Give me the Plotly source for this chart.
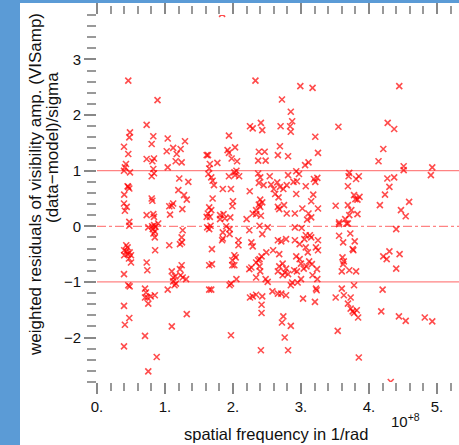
import plotly.graph_objects as go

# spatial frequency (units of 1e8 1/rad) and weighted residuals
freq = [
    0.46, 0.89, 0.73, 0.485, 0.475, 0.828, 1.04, 1.294, 0.397, 0.804, 0.46, 1.025, 1.12, 1.23, 1.172, 1.613,
    0.73, 0.838, 0.814, 1.157, 1.245, 0.426, 0.41, 0.485, 0.828, 1.04, 0.397, 0.804, 0.838, 1.637, 1.65,
    1.21, 1.343, 0.46, 0.475, 0.45, 0.40, 1.196, 0.804, 0.814, 1.28, 1.32, 0.397, 0.437, 0.41, 1.063,
    1.12, 1.10, 1.255, 0.73, 0.828, 0.838, 1.074, 0.475, 0.90, 1.613,
    0.475, 0.754, 0.84, 0.86, 0.82, 0.83, 0.85, 0.81, 0.85, 1.26, 1.245, 1.22, 1.25, 1.063, 0.855, 0.43,
    0.45, 0.40, 0.45, 0.50, 0.40, 0.47, 0.50, 0.43, 0.48, 0.73, 0.74, 0.397, 1.245, 1.22, 1.10, 1.12,
    1.15, 1.23, 1.26, 1.31, 1.16, 1.14, 1.12, 0.46, 0.48, 0.706, 0.72, 1.04, 0.706, 0.74, 0.79, 0.85,
    0.754, 0.397, 0.475, 1.32, 0.41, 1.10, 0.706, 0.397, 0.878, 0.754, 1.65, 1.65, 1.65,
    2.33, 2.99, 2.72, 2.85, 2.87, 2.84, 2.85, 2.25, 2.29, 2.41, 2.43, 2.70, 1.94, 2.03, 1.92, 1.94,
    2.38, 2.466, 2.69, 2.66, 2.81, 1.98, 2.06, 2.37, 2.48, 1.632, 1.66, 1.77, 2.02, 2.05, 2.03, 1.94,
    2.09, 2.37, 2.40, 2.54, 2.81, 2.93, 2.97, 3.06, 1.68, 1.70, 1.72, 1.85, 1.97, 2.246, 2.38, 2.45,
    2.56, 2.60, 2.65, 2.69, 2.74, 2.62, 2.67, 2.79, 2.89, 2.94, 2.93, 1.70, 1.65, 1.68, 1.81, 1.86,
    1.63, 1.66, 2.00, 1.99, 2.40, 2.43, 2.38, 2.40, 2.34, 2.29, 2.34, 2.41, 2.66, 2.68, 2.75, 2.79,
    2.91, 3.02, 1.96, 1.88, 1.81, 2.20,
    1.67, 1.62, 1.90, 1.95, 1.95, 1.85, 2.24, 2.39, 2.51, 2.43, 2.91, 3.01, 1.84, 1.85, 2.08, 2.08,
    1.69, 2.27, 2.29, 2.42, 2.39, 2.49, 2.59, 2.66, 2.71, 2.78, 2.68, 2.91, 2.98, 3.05, 2.02, 1.99,
    2.04, 1.99, 2.02, 1.69, 2.34, 2.37, 2.27, 2.24, 2.39, 2.40, 2.73, 2.68, 2.78, 2.66, 2.76, 2.81,
    2.73, 2.93, 2.98, 3.00, 3.08, 2.90, 2.94, 3.04, 2.51, 2.48, 2.34, 2.05, 1.97, 1.95, 3.00, 2.95,
    2.87, 2.85, 1.68, 2.58, 2.66, 2.71, 2.78, 2.25, 2.29, 2.34, 2.43, 3.03, 2.42, 2.42, 2.74, 2.72,
    2.85, 1.97, 2.76, 2.41, 2.81,
    3.17, 4.445, 4.275, 4.37, 3.55, 3.21, 4.21, 3.25, 4.14, 3.11, 4.51, 4.51, 3.71, 3.70, 3.85, 3.81,
    4.27, 4.37, 3.19, 3.24, 3.21, 3.07, 3.69, 4.30, 3.18, 3.15, 3.78, 3.80, 3.86, 3.83, 4.235, 4.59,
    3.25, 3.51, 3.69, 3.74, 3.71, 3.83, 4.16, 4.47, 4.54, 3.11, 3.15, 3.09, 3.56, 3.65, 3.67,
    3.56, 3.69, 4.40, 3.07, 3.13, 3.15, 3.25, 3.56, 3.725, 3.62, 3.79, 3.76, 3.77, 3.07, 3.22, 3.25,
    3.10, 4.21, 4.26, 4.30, 4.45, 3.61, 3.63, 3.62, 3.12, 3.16, 4.40, 3.235, 3.60, 3.71, 3.81, 3.17,
    3.24, 3.78, 3.22, 3.23, 3.60, 4.20, 3.51, 3.63, 3.73, 3.69, 3.73, 3.76, 3.82, 3.78, 3.84, 3.205,
    4.18, 4.44, 4.54, 3.54, 3.85, 4.32, 1.84,
    4.93, 4.91, 4.82, 4.93,
]
resid = [
    2.62, 2.27, 1.825, 1.69, 1.60, 1.62, 1.58, 1.53, 1.43, 1.48, 1.30, 1.35, 1.41, 1.39, 1.30, 1.28,
    1.21, 1.22, 1.17, 1.17, 1.15, 1.12, 1.06, 0.97, 1.03, 1.06, 1.00, 0.90, 0.955, 0.94, 1.04,
    0.86, 0.80, 0.71, 0.68, 0.72, 0.57, 0.65, 0.50, 0.46, 0.56, 0.48, 0.41, 0.35, 0.28, 0.36,
    0.41, 0.37, 0.31, 0.20, 0.22, 0.17, 0.21, 0.08, 0.05, 0.17,
    0.01, -0.02, 0.02, -0.01, -0.05, -0.13, -0.20, 0.00, -0.09, -0.07, -0.20, -0.32, -0.29, -0.34, -0.43, -0.34,
    -0.38, -0.43, -0.50, -0.52, -0.52, -0.58, -0.65, -0.45, -0.47, -0.65, -0.79, -0.86, -0.70, -0.77, -0.81, -0.92,
    -0.90, -0.88, -0.92, -0.95, -1.03, -1.06, -0.99, -1.06, -1.08, -1.12, -1.19, -1.14, -1.28, -1.28, -1.26, -1.24,
    -1.39, -1.43, -1.65, -1.58, -1.77, -1.80, -1.97, -2.16, -2.35, -2.61, -1.14, -0.05, -0.70,
    2.62, 2.52, 2.28, 2.06, 1.89, 1.80, 1.70, 1.80, 1.76, 1.86, 1.73, 1.80, 1.63, 1.42, 1.37, 1.32,
    1.34, 1.34, 1.44, 1.28, 1.26, 1.22, 1.17, 1.18, 1.18, 1.28, 1.12, 1.14, 0.97, 1.00, 0.92, 0.90,
    0.90, 0.95, 0.88, 0.90, 0.92, 0.99, 0.94, 1.10, 0.88, 0.82, 0.74, 0.67, 0.67, 0.63, 0.78, 0.74,
    0.75, 0.67, 0.79, 0.71, 0.67, 0.58, 0.52, 0.74, 0.80, 0.81, 0.58, 0.50, 0.34, 0.29, 0.20, 0.22,
    0.23, 0.17, 0.45, 0.36, 0.48, 0.43, 0.39, 0.35, 0.29, 0.23, 0.22, 0.19, 0.35, 0.31, 0.38, 0.23,
    0.23, 0.32, 0.16, 0.14, 0.13, 0.13,
    0.01, -0.02, 0.00, -0.05, -0.14, -0.11, -0.07, 0.01, -0.02, -0.14, -0.02, -0.03, -0.25, -0.22, -0.25, -0.34,
    -0.41, -0.29, -0.36, -0.54, -0.59, -0.47, -0.43, -0.25, -0.27, -0.23, -0.50, -0.25, -0.32, -0.23, -0.52, -0.61,
    -0.56, -0.70, -0.70, -0.68, -0.65, -0.61, -0.74, -0.77, -0.72, -0.81, -0.67, -0.72, -0.76, -0.81, -0.83, -0.86,
    -0.88, -0.54, -0.59, -0.67, -0.72, -0.79, -0.81, -0.76, -1.00, -0.95, -0.92, -0.95, -1.03, -1.06, -0.95, -1.01,
    -1.01, -1.06, -1.14, -1.17, -1.21, -1.21, -1.24, -1.28, -1.26, -1.23, -1.26, -1.30, -1.41, -1.56, -1.62, -1.73,
    -1.79, -1.96, -2.00, -2.23, -2.23,
    2.49, 2.52, 1.86, 1.75, 1.79, 1.61, 1.39, 1.32, 1.17, 1.15, 1.08, 1.01, 0.96, 0.90, 0.90, 0.85,
    0.86, 0.88, 0.85, 0.87, 0.80, 0.72, 0.72, 0.71, 0.57, 0.45, 0.56, 0.49, 0.53, 0.48, 0.57, 0.44,
    0.32, 0.37, 0.38, 0.29, 0.20, 0.22, 0.38, 0.29, 0.18, 0.23, 0.16, 0.12, 0.07, 0.13, 0.05,
    0.04, 0.05, -0.05, -0.16, -0.16, -0.20, -0.25, -0.17, -0.13, -0.29, -0.27, -0.41, -0.43, -0.38, -0.38, -0.43,
    -0.47, -0.54, -0.59, -0.45, -0.50, -0.56, -0.63, -0.68, -0.63, -0.68, -0.76, -0.77, -0.81, -0.79, -0.81, -0.88,
    -0.95, -1.06, -1.12, -1.15, -1.12, -1.14, -1.28, -1.24, -1.28, -1.39, -1.48, -1.53, -1.51, -1.56, -1.64, -1.36,
    -1.53, -1.62, -1.70, -1.88, -2.36, -2.80, 3.82,
    1.06, 0.92, -1.64, -1.71,
]

x_tickvals = [0, 1, 2, 3, 4, 5]
x_ticktext = ["0.", "1.", "2.", "3.", "4.", "5."]
y_tickvals = [-2, -1, 0, 1, 2, 3]
ref_levels = [1, -1]

FONT = "Liberation Sans, Arial, Helvetica, sans-serif"
BLUE = "#5b9bd6"
LINE_RED = "rgba(255,90,90,0.75)"

fig = go.Figure()
fig.add_trace(go.Scatter(
    x=freq, y=resid, mode="markers",
    marker=dict(symbol="x-thin-open", size=6, color="rgba(255,0,0,0.7)",
                line=dict(width=1.6, color="rgba(255,0,0,0.7)")),
    showlegend=False, hoverinfo="skip",
))

shapes = []
for lv in ref_levels:
    shapes.append(dict(type="line", xref="paper", x0=0, x1=1, yref="y", y0=lv, y1=lv,
                       line=dict(color=LINE_RED, width=1.2), layer="below"))
shapes.append(dict(type="line", xref="paper", x0=0, x1=1, yref="y", y0=0, y1=0,
                   line=dict(color=LINE_RED, width=1.2, dash="dashdot"), layer="below"))
# blue frame strips at top and left of the window
shapes.append(dict(type="rect", xref="paper", yref="paper", x0=-97 / 362, x1=-77 / 362,
                   y0=-1, y1=2, fillcolor=BLUE, line=dict(width=0), layer="above"))
shapes.append(dict(type="rect", xref="paper", yref="paper", x0=-1, x1=2,
                   y0=1 + 12 / 367, y1=1.2, fillcolor=BLUE, line=dict(width=0), layer="above"))

annotations = [
    dict(text="weighted residuals of visibility amp. (VISamp)", xref="paper", yref="paper",
         x=-61 / 362, y=(382 - 185) / 367, textangle=-90, showarrow=False,
         font=dict(family=FONT, size=17, color="#111"), xanchor="center", yanchor="middle"),
    dict(text="(data\u2212model)/sigma", xref="paper", yref="paper",
         x=-45 / 362, y=(382 - 148) / 367, textangle=-90, showarrow=False,
         font=dict(family=FONT, size=17, color="#111"), xanchor="center", yanchor="middle"),
    dict(text="spatial frequency in 1/rad", xref="paper", yref="paper",
         x=(276 - 97) / 362, y=-(434 - 382) / 367, showarrow=False,
         font=dict(family=FONT, size=16.5, color="#111"), xanchor="center", yanchor="middle"),
    dict(text="10<sup>+8</sup>", xref="paper", yref="paper",
         x=(389 - 97) / 362, y=-(420 - 382) / 367, showarrow=False,
         font=dict(family=FONT, size=15, color="#111"), xanchor="left", yanchor="middle"),
]

fig.update_layout(
    width=459, height=445,
    margin=dict(l=97, r=0, t=15, b=63),
    paper_bgcolor="white", plot_bgcolor="white",
    font=dict(family=FONT, size=14, color="#111"),
    shapes=shapes, annotations=annotations,
    xaxis=dict(range=[0, 362 / 68], showgrid=False, zeroline=False, showline=False,
               tickmode="array", tickvals=x_tickvals, ticktext=x_ticktext,
               ticks="outside", ticklen=11, tickwidth=1.5, tickcolor="#888",
               mirror="ticks",
               minor=dict(dtick=0.2, ticks="outside", ticklen=8, tickwidth=1.5, tickcolor="#999", showgrid=False),
               tickfont=dict(family=FONT, size=15, color="#111")),
    yaxis=dict(range=[-2.8, 3.8], showgrid=False, zeroline=False, showline=False,
               tickmode="array", tickvals=y_tickvals,
               ticks="outside", ticklen=12, tickwidth=1.5, tickcolor="#888",
               minor=dict(dtick=0.2, ticks="outside", ticklen=9, tickwidth=1.5, tickcolor="#999", showgrid=False),
               tickfont=dict(family=FONT, size=15, color="#111")),
)

fig.write_html(
    "out.html",
    config={"displayModeBar": False},
    post_script="document.body.style.margin='0';document.body.style.overflow='hidden';",
)
